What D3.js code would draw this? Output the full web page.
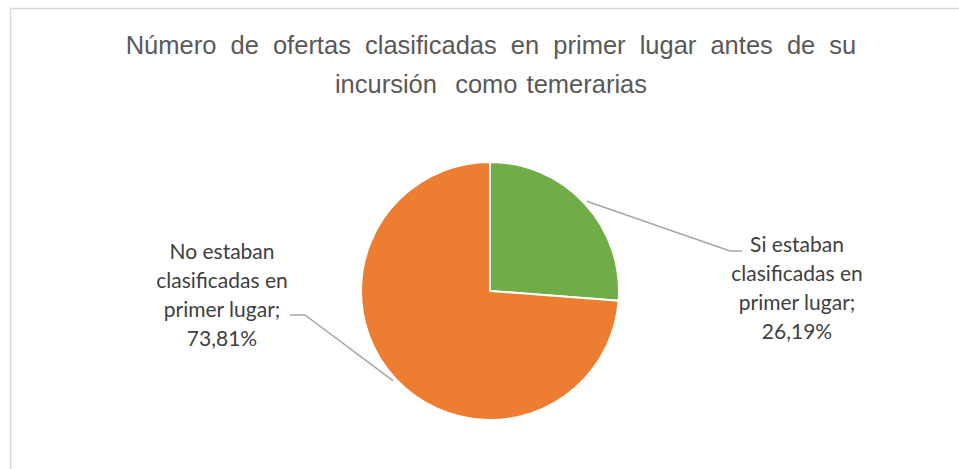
<!DOCTYPE html>
<html>
<head>
<meta charset="utf-8">
<script src="https://cdn.jsdelivr.net/npm/d3@7"></script>
<style>
  body { margin: 0; background: #fff; }
  svg { display: block; }
</style>
</head>
<body>
<svg id="chart" width="959" height="469"></svg>
<script>
// data
const categories = ['Si estaban clasificadas en primer lugar', 'No estaban clasificadas en primer lugar'];
const values = [26.19, 73.81];
const labelLines = [
  ['Si estaban', 'clasificadas en', 'primer lugar;', '26,19%'],
  ['No estaban', 'clasificadas en', 'primer lugar;', '73,81%']
];
const titleLines = [
  'Número de ofertas clasificadas en primer lugar antes de su',
  'incursión  como temerarias'
];

const Colors = ['#70AD47', '#ED7D31'];
const LeaderColor = '#A6A6A6';
const TitleWordSpacing = [7, 2];
const cx = 490, cy = 291, radius = 129;

const svg = d3.select('#chart');

// chart frame
svg.append('rect')
  .attr('x', 10.5)
  .attr('y', 8.5)
  .attr('width', 1000)
  .attr('height', 500)
  .attr('fill', 'none')
  .attr('stroke', '#D9D9D9')
  .attr('stroke-width', 1.5);

// title
svg.append('g')
  .selectAll('text')
  .data(titleLines)
  .enter().append('text')
    .attr('x', cx + 1)
    .attr('y', (d, i) => 54 + i * 39)
    .attr('text-anchor', 'middle')
    .attr('font-family', 'Liberation Sans, Arial, sans-serif')
    .attr('font-size', 25.5)
    .attr('fill', '#595959')
    .style('word-spacing', (d, i) => `${TitleWordSpacing[i]}px`)
    .style('white-space', 'pre')
    .text(d => d);

const pie = d3.pie().sort(null).value(d => d);
const arcs = pie(values);
const arc = d3.arc().innerRadius(0).outerRadius(radius);
const leaderArc = d3.arc().innerRadius(radius + 3).outerRadius(radius + 3);

const g = svg.append('g')
  .attr('transform', `translate(${cx},${cy})`);

g.selectAll('path.slice')
  .data(arcs)
  .enter().append('path')
    .classed('slice', true)
    .attr('d', arc)
    .attr('fill', (d, i) => Colors[i])
    .attr('stroke', '#fff')
    .attr('stroke-width', 2)
    .attr('stroke-linejoin', 'round');

// label placement relative to pie center
const labelPos = [
  { x: 307, y: -39, elbow: 240, lineY: -40, anchorEnd: 252 },
  { x: -268, y: -32, elbow: -185, lineY: 24, anchorEnd: -200 }
];

arcs.forEach((d, i) => {
  const p = leaderArc.centroid(d);
  const pos = labelPos[i];
  g.append('polyline')
    .attr('points', [p, [pos.elbow, pos.lineY], [pos.anchorEnd, pos.lineY]].map(q => q.join(',')).join(' '))
    .attr('fill', 'none')
    .attr('stroke', LeaderColor)
    .attr('stroke-width', 1.5);

  g.append('g')
    .selectAll('text')
    .data(labelLines[i])
    .enter().append('text')
      .attr('x', pos.x)
      .attr('y', (t, j) => pos.y + j * 29)
      .attr('text-anchor', 'middle')
      .attr('font-family', 'Lato, Carlito, Calibri, sans-serif')
      .attr('font-size', 21)
      .attr('fill', '#404040')
      .text(t => t);
});
</script>
</body>
</html>
